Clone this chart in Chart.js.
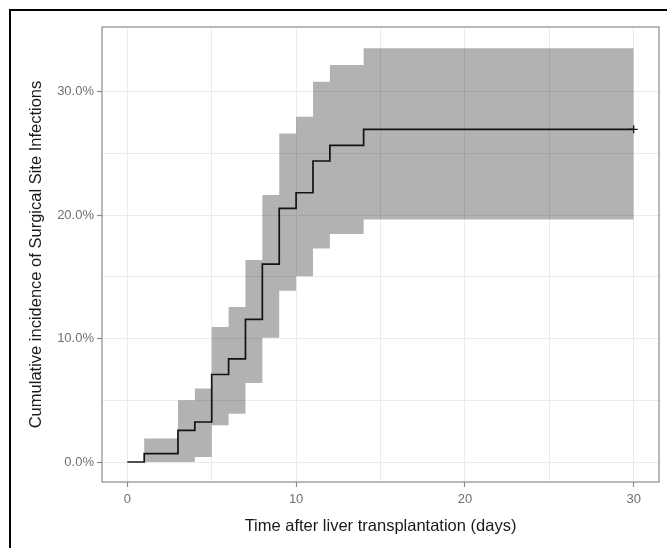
<!DOCTYPE html>
<html>
<head>
<meta charset="utf-8">
<script src="https://cdn.jsdelivr.net/npm/chart.js@4.4.0/dist/chart.umd.min.js"></script>
<style>
  html, body { margin: 0; padding: 0; background: #fff; }
  #wrap { position: relative; width: 667px; height: 548px; overflow: hidden; }
  #frame { position: absolute; left: 9px; top: 9px; width: 700px; height: 600px;
           border-left: 2px solid #000; border-top: 2px solid #000; }
  canvas { position: absolute; left: 0; top: 0; }
</style>
</head>
<body>
<div id="wrap">
  <div id="frame"></div>
  <canvas id="kmChart" width="667" height="548"></canvas>
</div>
<script>
// days after transplant where the estimate changes
let days = [0, 1, 3, 4, 5, 6, 7, 8, 9, 10, 11, 12, 14, 30];
// cumulative incidence (%)
let incidence = [0, 0.68, 2.57, 3.24, 7.09, 8.36, 11.55, 16.03, 20.55, 21.82, 24.39, 25.66, 26.96, 26.96];
let lowerCI = [0, 0, 0, 0.4, 2.98, 3.92, 6.41, 10.06, 13.87, 15.06, 17.3, 18.47, 19.66, 19.66];
let upperCI = [0, 1.9, 5.0, 5.95, 10.95, 12.57, 16.36, 21.63, 26.63, 27.98, 30.82, 32.17, 33.53, 33.53];
let xTicks = [0, 5, 10, 15, 20, 25, 30];
let yTicks = [0, 5, 10, 15, 20, 25, 30];

const toPoints = (ys) => days.map((d, i) => ({ x: d, y: ys[i] }));

const panelBorder = {
  id: 'panelBorder',
  afterDraw(chart) {
    const { ctx, chartArea: a } = chart;
    ctx.save();
    ctx.strokeStyle = '#8a8a8a';
    ctx.lineWidth = 1.2;
    ctx.strokeRect(a.left, a.top, a.right - a.left, a.bottom - a.top);
    ctx.restore();
  }
};

const tickColor = '#707070';
const majorOnly = (ctx) => (ctx.tick && ctx.tick.value % 10 === 0 ? '#8a8a8a' : 'rgba(0,0,0,0)');

let ctx = document.getElementById('kmChart').getContext('2d');

let myChart = new Chart(ctx, {
  type: 'line',
  data: {
    datasets: [
      {
        label: 'lower',
        data: toPoints(lowerCI),
        stepped: true,
        borderWidth: 0,
        pointRadius: 0,
        fill: false
      },
      {
        label: 'upper',
        data: toPoints(upperCI),
        stepped: true,
        borderWidth: 0,
        pointRadius: 0,
        backgroundColor: 'rgba(0,0,0,0.3)',
        fill: '-1'
      },
      {
        label: 'Cumulative incidence',
        data: toPoints(incidence),
        stepped: true,
        borderColor: '#1a1a1a',
        borderWidth: 1.7,
        fill: false,
        pointStyle: 'cross',
        pointRadius: (c) => (c.dataIndex === days.length - 1 ? 4 : 0),
        pointBorderColor: '#1a1a1a',
        pointBorderWidth: 1.3
      }
    ]
  },
  options: {
    responsive: false,
    animation: false,
    layout: { padding: { top: 27, right: 8, left: 0, bottom: 0 } },
    plugins: {
      legend: { display: false },
      tooltip: { enabled: false }
    },
    scales: {
      x: {
        type: 'linear',
        min: -1.5,
        max: 31.5,
        afterBuildTicks: (scale) => { scale.ticks = xTicks.map(v => ({ value: v })); },
        afterFit: (scale) => { scale.height = 66; },
        grid: { color: '#ebebeb', lineWidth: 1, tickLength: 5, tickColor: majorOnly, tickWidth: 1.2 },
        border: { display: false },
        ticks: {
          autoSkip: false,
          maxRotation: 0,
          padding: 5,
          color: tickColor,
          font: { family: 'Liberation Sans, Arial, sans-serif', size: 13 },
          callback: (v) => (v % 10 === 0 ? String(v) : '')
        },
        title: {
          display: true,
          text: 'Time after liver transplantation (days)',
          color: '#1a1a1a',
          font: { family: 'Liberation Sans, Arial, sans-serif', size: 16.5 },
          padding: { top: 0, bottom: 12 }
        }
      },
      y: {
        type: 'linear',
        min: -1.62,
        max: 35.25,
        afterBuildTicks: (scale) => { scale.ticks = yTicks.map(v => ({ value: v })); },
        afterFit: (scale) => { scale.width = 102; },
        grid: { color: '#ebebeb', lineWidth: 1, tickLength: 5, tickColor: majorOnly, tickWidth: 1.2 },
        border: { display: false },
        ticks: {
          autoSkip: false,
          padding: 3,
          color: tickColor,
          font: { family: 'Liberation Sans, Arial, sans-serif', size: 13 },
          callback: (v) => (v % 10 === 0 ? v.toFixed(1) + '%' : '')
        },
        title: {
          display: true,
          text: 'Cumulative incidence of Surgical Site Infections',
          color: '#1a1a1a',
          font: { family: 'Liberation Sans, Arial, sans-serif', size: 16.5 },
          padding: { top: 27, bottom: 0 }
        }
      }
    }
  },
  plugins: [panelBorder]
});
</script>
</body>
</html>
